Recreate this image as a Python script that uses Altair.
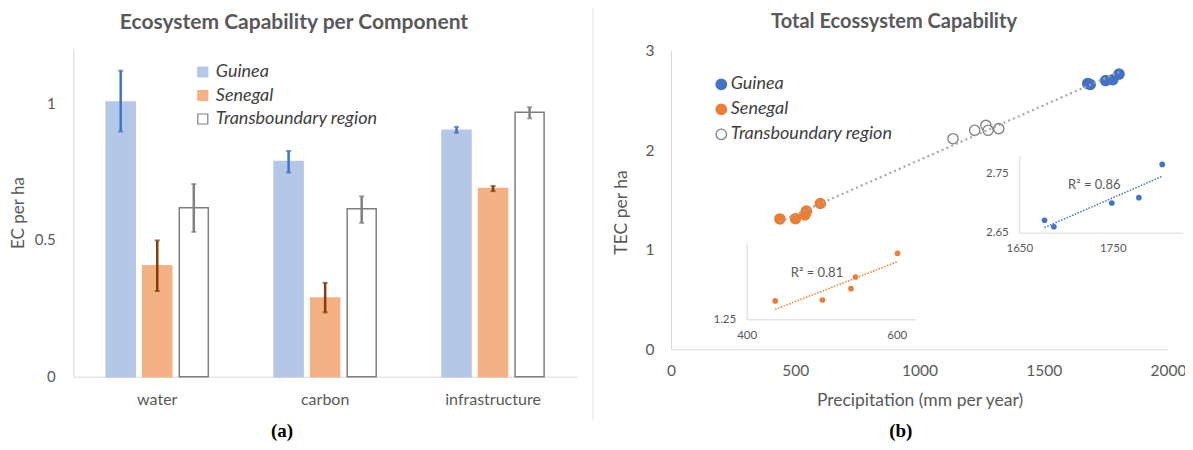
import altair as alt
import pandas as pd

# ---------------- data ----------------
components = ["water", "carbon", "infrastructure"]
series = ["Guinea", "Senegal", "Transboundary region"]

guinea_ec = [1.004, 0.786, 0.901]
guinea_lo = [0.896, 0.746, 0.891]
guinea_hi = [1.118, 0.825, 0.913]
senegal_ec = [0.405, 0.288, 0.688]
senegal_lo = [0.313, 0.235, 0.678]
senegal_hi = [0.498, 0.343, 0.697]
trans_ec = [0.617, 0.614, 0.966]
trans_lo = [0.529, 0.562, 0.944]
trans_hi = [0.704, 0.659, 0.985]

guinea_precip = [1677, 1687, 1749, 1778, 1803]
guinea_tec = [2.671, 2.660, 2.700, 2.709, 2.765]
senegal_precip = [438, 501, 539, 545, 601]
senegal_tec = [1.310, 1.313, 1.350, 1.388, 1.465]
trans_precip = [1135, 1222, 1267, 1276, 1319]
trans_tec = [2.116, 2.200, 2.250, 2.200, 2.217]

bar_fill = ["#b4c7e7", "#f4b183", "#ffffff"]
bar_stroke = ["#b4c7e7", "#f4b183", "#7f7f7f"]
err_colors = ["#4472c4", "#843c0c", "#7f7f7f"]
pt_fill = ["#4472c4", "#ed7d31", "#ffffff"]
pt_stroke = ["#4472c4", "#ed7d31", "#7f7f7f"]

bars_df = pd.DataFrame({
    "component": components * 3,
    "series": [series[0]] * 3 + [series[1]] * 3 + [series[2]] * 3,
    "value": guinea_ec + senegal_ec + trans_ec,
    "lo": guinea_lo + senegal_lo + trans_lo,
    "hi": guinea_hi + senegal_hi + trans_hi,
})
sc_df = pd.DataFrame({
    "precip": guinea_precip + senegal_precip + trans_precip,
    "tec": guinea_tec + senegal_tec + trans_tec,
    "series": [series[0]] * 5 + [series[1]] * 5 + [series[2]] * 5,
})
gui_df = pd.DataFrame({"precip": guinea_precip, "tec": guinea_tec})
sen_df = pd.DataFrame({"precip": senegal_precip, "tec": senegal_tec})
series_df = pd.DataFrame({"series": series})

# ---------------- layout (view pixels) ----------------
W, H = 1177, 434
LX0, LX1, LY0, LY1 = 65.3, 569.0, 368.7, 40.3
RX0, RX1, RY0, RY1 = 663.0, 1160.0, 341.3, 42.7
SX0, SX1, SY0, SY1 = 738.7, 907.5, 311.3, 234.7
GX0, GX1, GY0, GY1 = 1011.3, 1174.8, 224.7, 147.5

FONT = "Lato"
GRAY = "#595959"

# ---------------- left panel ----------------
def xband(axis):
    return alt.X("component:N", sort=components,
                 scale=alt.Scale(domain=components, range=[LX0, LX1], paddingInner=0, paddingOuter=0),
                 axis=axis)

def xoff():
    return alt.XOffset("series:N", sort=series,
                       scale=alt.Scale(domain=series, paddingInner=0.2055, paddingOuter=0.9))

yl_scale = alt.Scale(domain=[0, 1.2], range=[LY0, LY1], nice=False)

leg_l = alt.Legend(orient="none", legendX=185.8, legendY=55, title=None, symbolType="square",
                   symbolSize=100, labelFontSize=18, labelFontStyle="italic", labelColor="#404040",
                   labelFont=FONT, rowPadding=5.5, labelOffset=4, symbolStrokeWidth=1.2,
                   labelLimit=300, padding=0)

bars = alt.Chart(bars_df).mark_bar(strokeWidth=1.5).encode(
    x=xband(alt.Axis(orient="bottom", offset=LY0 - H, ticks=False, labelAngle=0,
                     labelFontSize=16, labelPadding=15, title=None)),
    xOffset=xoff(),
    y=alt.Y("value:Q", scale=yl_scale,
            axis=alt.Axis(orient="left", offset=-LX0, values=[0, 0.5, 1], format="~g",
                          ticks=False, labelPadding=18, labelFontSize=15,
                          title="EC per ha", titleFontSize=17, titleX=10.4 - LX0, titleY=204.5,
                          titleAngle=270, titleAlign="center", titleBaseline="middle")),
    fill=alt.Fill("series:N", scale=alt.Scale(domain=series, range=bar_fill), legend=leg_l),
    stroke=alt.Stroke("series:N", scale=alt.Scale(domain=series, range=bar_stroke), legend=leg_l),
)

def err_color():
    return alt.Color("series:N", scale=alt.Scale(domain=series, range=err_colors), legend=None)

errs = alt.Chart(bars_df).mark_rule(strokeWidth=2.5).encode(
    x=xband(None), xOffset=xoff(),
    y=alt.Y("lo:Q", scale=yl_scale, axis=None), y2="hi:Q", color=err_color())
cap_hi = alt.Chart(bars_df).mark_tick(orient="horizontal", size=5, thickness=2).encode(
    x=xband(None), xOffset=xoff(), y=alt.Y("hi:Q", scale=yl_scale, axis=None), color=err_color())
cap_lo = alt.Chart(bars_df).mark_tick(orient="horizontal", size=5, thickness=2).encode(
    x=xband(None), xOffset=xoff(), y=alt.Y("lo:Q", scale=yl_scale, axis=None), color=err_color())

# ---------------- right main panel ----------------
xr_scale = alt.Scale(domain=[0, 2000], range=[RX0, RX1], nice=False, zero=False)
yr_scale = alt.Scale(domain=[0, 3], range=[RY0, RY1], nice=False, zero=False)

def pfill():
    return alt.Fill("series:N", scale=alt.Scale(domain=series, range=pt_fill), legend=None)

def pstroke():
    return alt.Stroke("series:N", scale=alt.Scale(domain=series, range=pt_stroke), legend=None)

pts = alt.Chart(sc_df).mark_point(shape="circle", opacity=1, fillOpacity=1, strokeWidth=1.3).encode(
    x=alt.X("precip:Q", scale=xr_scale,
            axis=alt.Axis(orient="bottom", offset=RY0 - H, values=[0, 500, 1000, 1500, 2000],
                          format="d", labelFlush=False, ticks=False, labelPadding=14,
                          labelFontSize=15.5, title="Precipitation (mm per year)", titleFontSize=17.5,
                          titleY=50.7, titleBaseline="middle")),
    y=alt.Y("tec:Q", scale=yr_scale,
            axis=alt.Axis(orient="left", offset=-RX0, values=[0, 1, 2, 3], format="d",
                          labelFlush=False, ticks=False, labelPadding=17, labelFontSize=15.5,
                          title="TEC per ha", titleFontSize=17.5, titleX=613 - RX0, titleY=204,
                          titleAngle=270, titleAlign="center", titleBaseline="middle")),
    fill=pfill(), stroke=pstroke(),
    size=alt.Size("series:N", scale=alt.Scale(domain=series, range=[105, 105, 62]), legend=None),
)
trend = alt.Chart(sc_df).transform_regression("precip", "tec").mark_line(
    color="#a6a6a6", strokeWidth=2.2, strokeDash=[2, 3.2]).encode(
    x=alt.X("precip:Q", scale=xr_scale, axis=None),
    y=alt.Y("tec:Q", scale=yr_scale, axis=None))

# legend of the scatter panel, drawn from the series list
leg_y = alt.Y("series:N", sort=series,
              scale=alt.Scale(type="point", domain=series, range=[76.3, 126.3], padding=0), axis=None)
leg_sym = alt.Chart(series_df).mark_point(shape="circle", opacity=1, fillOpacity=1, strokeWidth=1.3).encode(
    x=alt.value(713.3), y=leg_y, fill=pfill(), stroke=pstroke(),
    size=alt.Size("series:N", scale=alt.Scale(domain=series, range=[110, 110, 62]), legend=None))
leg_lab = alt.Chart(series_df).mark_text(align="left", baseline="middle", font=FONT, fontSize=18,
                                         fontStyle="italic", color="#404040").encode(
    x=alt.value(722.7), y=leg_y, text="series:N")

# ---------------- insets ----------------
def inset(df, color, xdom, xr, ydom, yr, xvals, yvals):
    xs = alt.Scale(domain=xdom, range=xr, nice=False, zero=False)
    ys = alt.Scale(domain=ydom, range=yr, nice=False, zero=False)
    p = alt.Chart(df).mark_circle(size=32, color=color, opacity=1).encode(
        x=alt.X("precip:Q", scale=xs,
                axis=alt.Axis(orient="bottom", offset=yr[0] - H, values=xvals, format="d",
                              labelFlush=False, ticks=False, labelPadding=10, labelFontSize=11.5,
                              title=None)),
        y=alt.Y("tec:Q", scale=ys,
                axis=alt.Axis(orient="left", offset=-xr[0], values=yvals, format=".2f",
                              labelFlush=False, ticks=False, labelPadding=11, labelFontSize=11.5,
                              title=None)))
    t = alt.Chart(df).transform_regression("precip", "tec").mark_line(
        color=color, strokeWidth=1.5, strokeDash=[1.5, 1.5]).encode(
        x=alt.X("precip:Q", scale=xs, axis=None),
        y=alt.Y("tec:Q", scale=ys, axis=None))
    return [p, t]

ins_sen = inset(sen_df, "#ed7d31", [400, 625], [SX0, SX1], [1.25, 1.5], [SY0, SY1], [400, 600], [1.25])
ins_gui = inset(gui_df, "#4472c4", [1650, 1825], [GX0, GX1], [2.65, 2.78], [GY0, GY1], [1650, 1750], [2.65, 2.75])

# ---------------- annotations ----------------
one = pd.DataFrame({"k": [0]})

def txt(s, x, y, size, weight="normal", font=FONT, color=GRAY):
    return alt.Chart(one).mark_text(text=s, font=font, fontSize=size, fontWeight=weight,
                                    color=color, align="center", baseline="middle").encode(
        x=alt.value(x), y=alt.value(y))

t_left = txt("Ecosystem Capability per Component", 286, 15, 21, "bold")
t_right = txt("Total Ecossystem Capability", 886, 14, 20, "bold")
cap_a = txt("(a)", 274, 423, 19, "bold", "Liberation Serif", "#000000")
cap_b = txt("(b)", 892.8, 423, 19, "bold", "Liberation Serif", "#000000")
r2_sen = txt("R² = 0.81", 809, 264.7, 13)
r2_gui = txt("R² = 0.86", 1086.3, 177, 13)
sep = alt.Chart(one).mark_rule(color="#e3e3e3", strokeWidth=1).encode(
    x=alt.value(585), y=alt.value(0), y2=alt.value(412))

chart = alt.layer(
    sep, bars, errs, cap_hi, cap_lo, pts, trend, leg_sym, leg_lab, *ins_sen, *ins_gui,
    t_left, t_right, cap_a, cap_b, r2_sen, r2_gui
).resolve_scale(
    x="independent", y="independent", xOffset="independent", fill="independent",
    stroke="independent", color="independent", size="independent"
).properties(
    width=W, height=H, autosize=alt.AutoSizeParams(type="none"), padding=0
).configure_view(stroke=None).configure_axis(
    grid=False, domainColor="#d9d9d9", domainWidth=1, tickColor="#d9d9d9",
    labelColor=GRAY, titleColor=GRAY, labelFont=FONT, titleFont=FONT, titleFontWeight="normal"
)

chart.save("out.html", embed_options={"renderer": "svg", "actions": False})
